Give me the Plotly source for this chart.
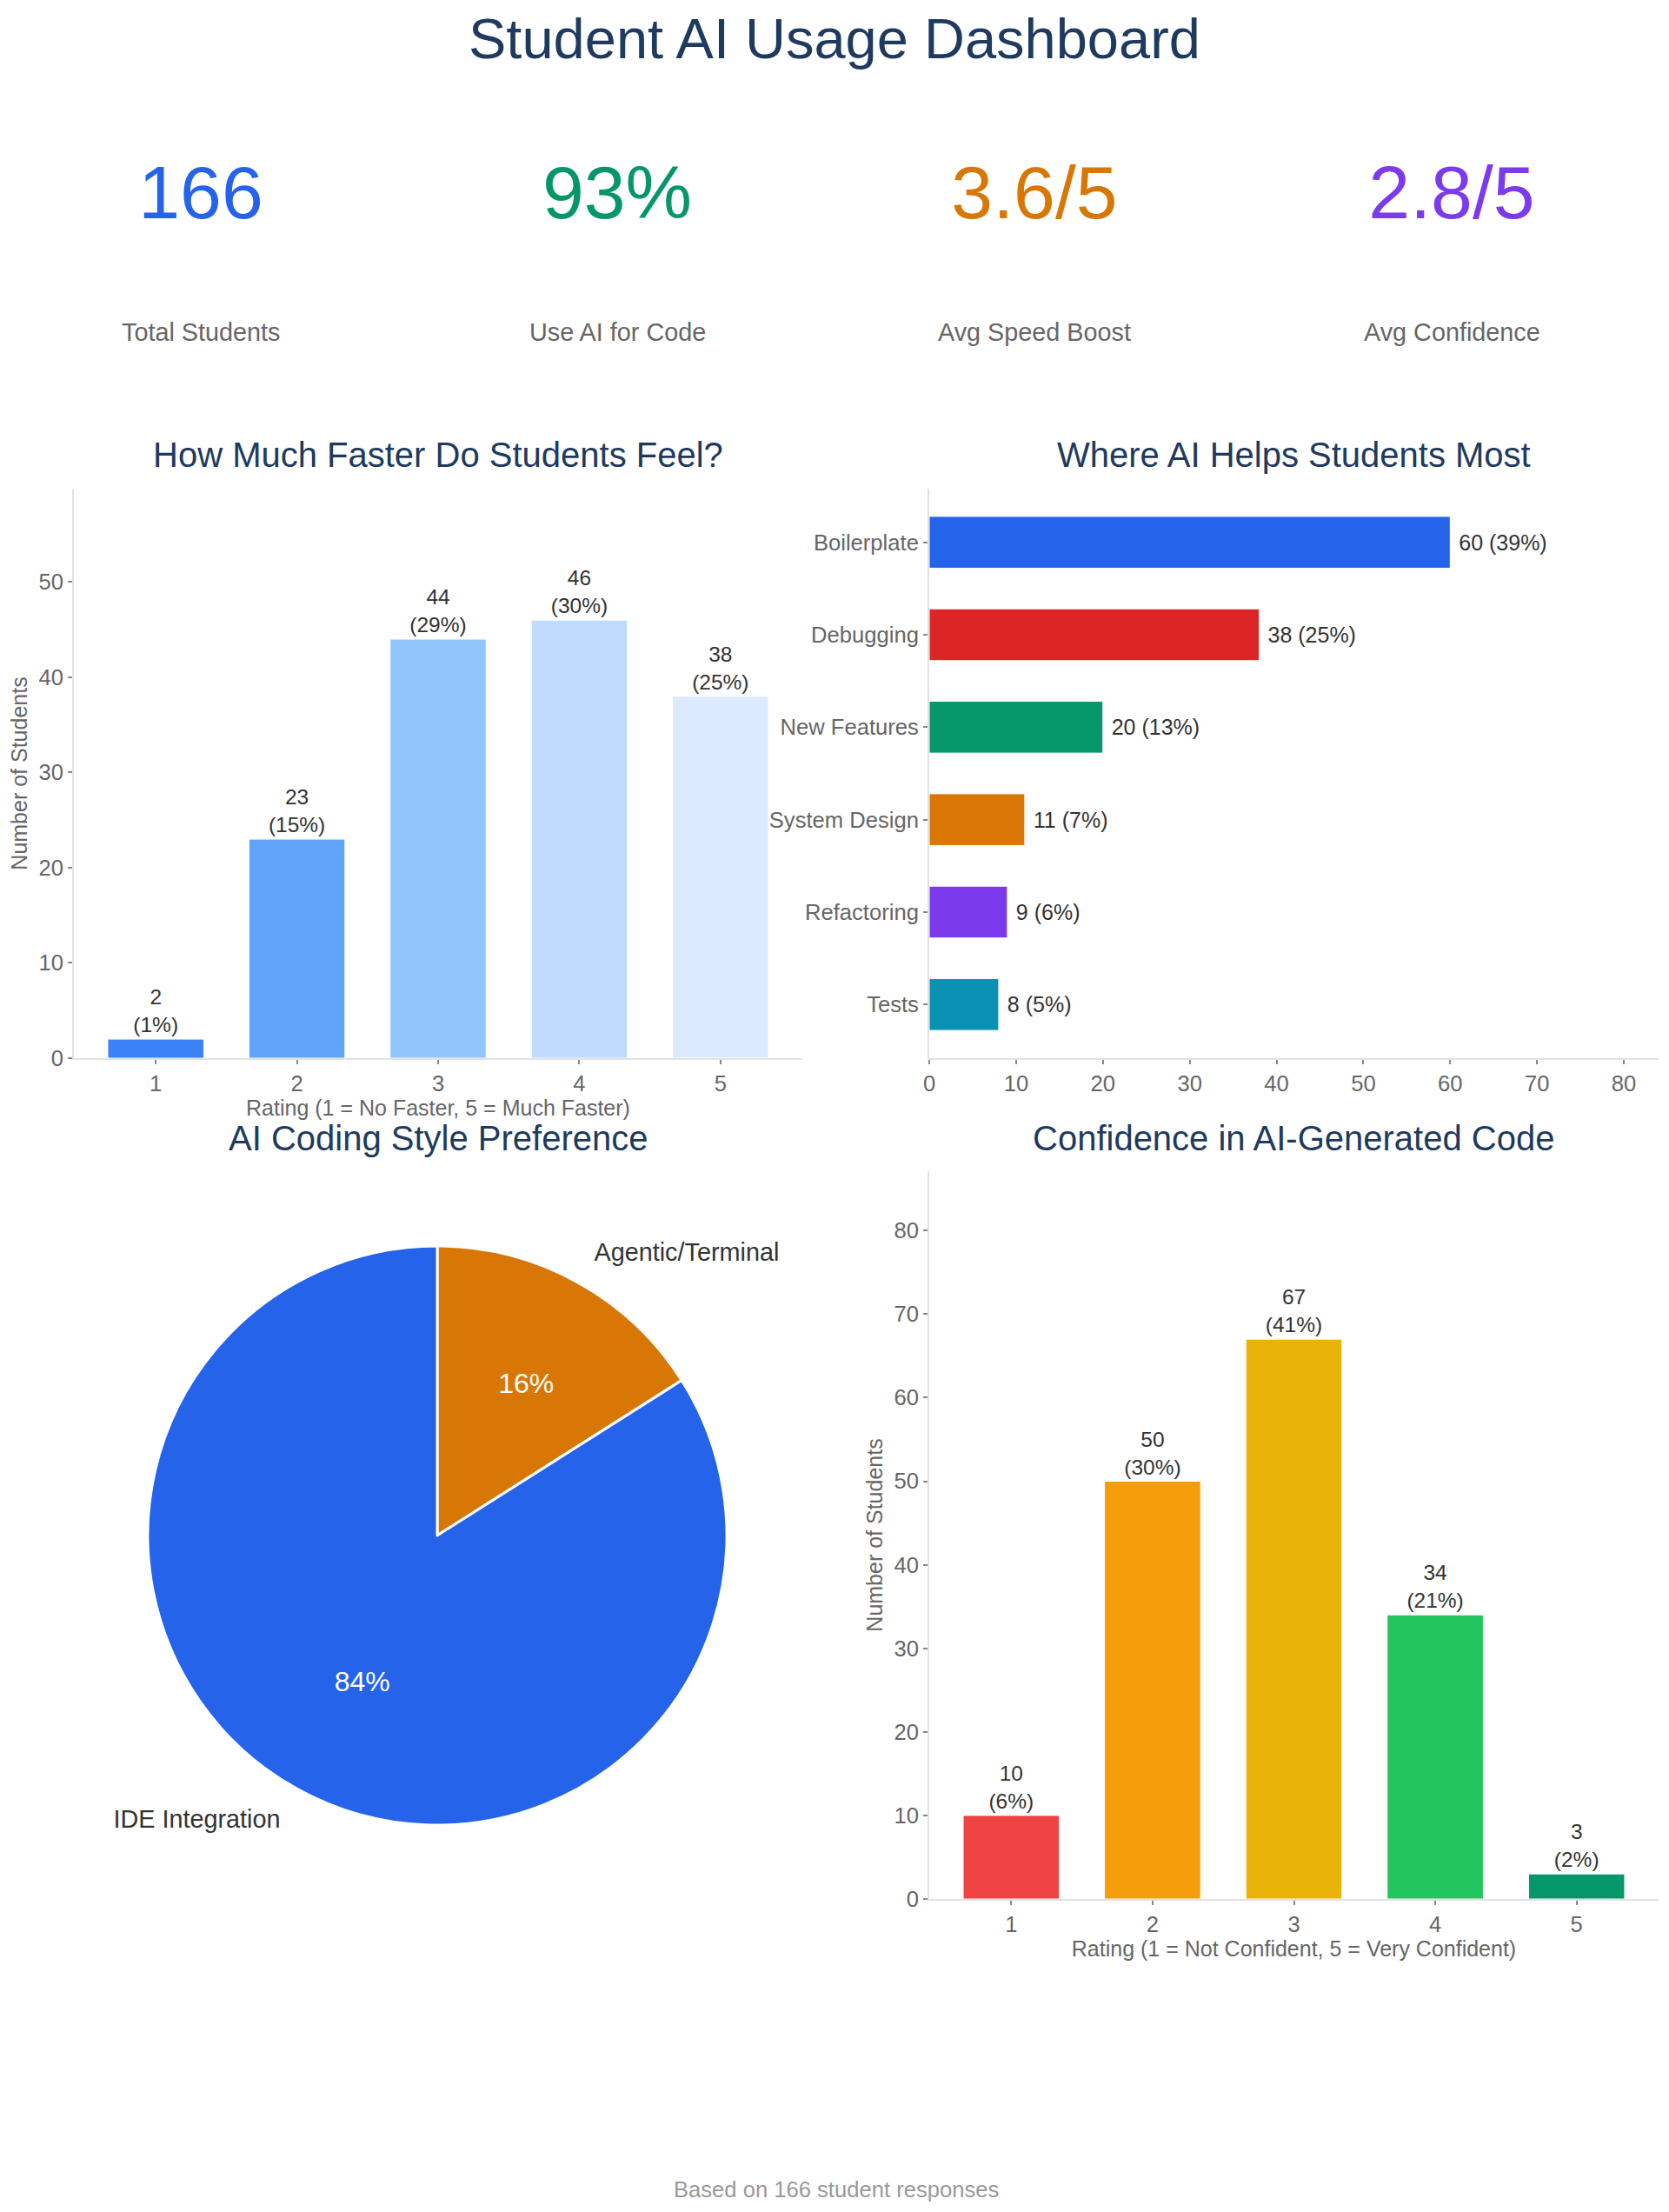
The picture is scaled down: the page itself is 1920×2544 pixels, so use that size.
import plotly.graph_objects as go

# ---- data ----
total_students = 166
use_ai_pct = 93
avg_speed = 3.6
avg_confidence = 2.8

kpi_labels = ["Total Students", "Use AI for Code", "Avg Speed Boost", "Avg Confidence"]

speed_ratings = [1, 2, 3, 4, 5]
speed_counts = [2, 23, 44, 46, 38]
speed_pct = [1, 15, 29, 30, 25]

help_areas = ["Boilerplate", "Debugging", "New Features", "System Design", "Refactoring", "Tests"]
help_counts = [60, 38, 20, 11, 9, 8]
help_pct = [39, 25, 13, 7, 6, 5]

style_labels = ["Agentic/Terminal", "IDE Integration"]
style_pct = [16, 84]

conf_ratings = [1, 2, 3, 4, 5]
conf_counts = [10, 50, 67, 34, 3]
conf_pct = [6, 30, 41, 21, 2]

# ---- styling ----
FONT = "Liberation Sans, Arial, Helvetica, sans-serif"
NAVY = "#1e3a5f"
GRAY = "#666666"
DARK = "#333333"
kpi_colors = ["#2563eb", "#059669", "#d97706", "#7c3aed"]
speed_colors = ["#3b82f6", "#60a5fa", "#93c5fd", "#bfdbfe", "#dbeafe"]
help_colors = ["#2563eb", "#dc2626", "#059669", "#d97706", "#7c3aed", "#0891b2"]
style_colors = ["#d97706", "#2563eb"]
conf_colors = ["#ef4444", "#f59e0b", "#eab308", "#22c55e", "#059669"]
CLEAR = ["rgba(0,0,0,0)", "rgba(0,0,0,0)"]

# the page body has an 8px margin, so the figure sits 8px in from the corner
OFF = 8
W, H = 1904, 2528
ML, MR = 77, 4
PW = W - ML - MR


def px_x(p):  # page pixel -> paper x
    return (p - OFF - ML) / PW


def px_y(p):  # page pixel -> paper y
    return 1 - (p - OFF) / H


fig = go.Figure()

# KPI numbers
kpi_centers = [231, 710, 1190, 1670]
kpi_values = [total_students, use_ai_pct, avg_speed, avg_confidence]
kpi_fmt = [(".0f", ""), (".0f", "%"), (".1f", "/5"), (".1f", "/5")]
for c, v, (fmt, suf), col in zip(kpi_centers, kpi_values, kpi_fmt, kpi_colors):
    fig.add_trace(go.Indicator(
        mode="number", value=v,
        number=dict(valueformat=fmt, suffix=suf, font=dict(size=86, color=col, family=FONT)),
        domain=dict(x=[px_x(c - 140), px_x(c + 140)], y=[px_y(321), px_y(121)]),
    ))

# speed bars
fig.add_trace(go.Bar(
    x=speed_ratings, y=speed_counts, width=0.68,
    marker=dict(color=speed_colors, line=dict(color="white", width=1)),
    text=[f"{c}<br>({p}%)" for c, p in zip(speed_counts, speed_pct)],
    textposition="outside", cliponaxis=False,
    textfont=dict(size=24.5, color=DARK, family=FONT),
    xaxis="x", yaxis="y", showlegend=False,
))

# help areas
fig.add_trace(go.Bar(
    x=help_counts, y=help_areas, orientation="h", width=0.56,
    marker=dict(color=help_colors, line=dict(color="white", width=1)),
    text=[f"\u00a0{c} ({p}%)" for c, p in zip(help_counts, help_pct)],
    textposition="outside", cliponaxis=False,
    textfont=dict(size=25, color=DARK, family=FONT),
    xaxis="x2", yaxis="y2", showlegend=False,
))

# pie slices
fig.add_trace(go.Pie(
    labels=style_labels, values=style_pct, sort=False, direction="clockwise",
    marker=dict(colors=style_colors, line=dict(color="white", width=3)),
    textinfo="none",
    domain=dict(x=[px_x(170), px_x(836)], y=[px_y(2099), px_y(1433)]),
    showlegend=False, hoverinfo="label+percent",
))
# percentages inside (transparent copy, nudged so the text sits centred)
fig.add_trace(go.Pie(
    labels=style_labels, values=style_pct, sort=False, direction="clockwise",
    marker=dict(colors=CLEAR, line=dict(width=0)),
    textinfo="percent", textposition="inside",
    insidetextfont=dict(size=32, color="white", family=FONT),
    domain=dict(x=[px_x(164), px_x(830)], y=[px_y(2121), px_y(1455)]),
    showlegend=False, hoverinfo="skip",
))
# labels outside (transparent copy)
fig.add_trace(go.Pie(
    labels=style_labels, values=style_pct, sort=False, direction="clockwise",
    marker=dict(colors=CLEAR, line=dict(width=0)),
    textinfo="label", textposition="outside",
    outsidetextfont=dict(size=28.8, color=DARK, family=FONT),
    domain=dict(x=[px_x(145), px_x(861)], y=[px_y(2124), px_y(1408)]),
    showlegend=False, hoverinfo="skip",
))

# confidence bars
fig.add_trace(go.Bar(
    x=conf_ratings, y=conf_counts, width=0.68,
    marker=dict(color=conf_colors, line=dict(color="white", width=1)),
    text=[f"{c}<br>({p}%)" for c, p in zip(conf_counts, conf_pct)],
    textposition="outside", cliponaxis=False,
    textfont=dict(size=24.5, color=DARK, family=FONT),
    xaxis="x3", yaxis="y3", showlegend=False,
))

axis_style = dict(
    showline=True, linecolor="#e2e2e2", linewidth=2,
    ticks="outside", ticklen=5, tickwidth=1.5, tickcolor="#888888",
    showgrid=False, zeroline=False, automargin=False,
    tickfont=dict(size=25.6, color=GRAY, family=FONT),
)
title_font = dict(size=25, color=GRAY, family=FONT)

left_x = [0, px_x(923)]
right_x = [px_x(1069), 1]
row2_y = [px_y(1217), px_y(562)]
row3_y = [px_y(2184), px_y(1347)]

fig.update_layout(
    width=W, height=H,
    paper_bgcolor="white", plot_bgcolor="white",
    margin=dict(l=ML, r=MR, t=0, b=0, autoexpand=False),
    font=dict(family=FONT, color=GRAY),
    title=dict(text="Student AI Usage Dashboard", x=0.5, xanchor="center",
               y=px_y(44), yanchor="middle", yref="container",
               font=dict(size=65, color=NAVY, family=FONT)),
    xaxis=dict(domain=left_x, anchor="y", range=[0.42, 5.58], tickvals=speed_ratings,
               title=dict(text="Rating (1 = No Faster, 5 = Much Faster)", standoff=4, font=title_font),
               **axis_style),
    yaxis=dict(domain=row2_y, anchor="x", range=[0, 59.8], dtick=10,
               title=dict(text="Number of Students", standoff=6, font=title_font), **axis_style),
    xaxis2=dict(domain=right_x, anchor="y2", range=[0, 84], dtick=10, **axis_style),
    yaxis2=dict(domain=row2_y, anchor="x2", type="category", categoryorder="array",
                categoryarray=help_areas, range=[5.58, -0.58], **axis_style),
    xaxis3=dict(domain=right_x, anchor="y3", range=[0.42, 5.58], tickvals=conf_ratings,
                title=dict(text="Rating (1 = Not Confident, 5 = Very Confident)", standoff=5,
                           font=title_font), **axis_style),
    yaxis3=dict(domain=row3_y, anchor="x3", range=[0, 87.1], dtick=10,
                title=dict(text="Number of Students", standoff=6, font=title_font), **axis_style),
)

annotations = []
for c, lab in zip(kpi_centers, kpi_labels):
    annotations.append(dict(text=lab, x=px_x(c), y=px_y(382), xref="paper", yref="paper",
                            xanchor="center", yanchor="middle", showarrow=False,
                            font=dict(size=28.8, color=GRAY, family=FONT)))

sub_titles = [
    ("How Much Faster Do Students Feel?", 504, 523),
    ("Where AI Helps Students Most", 1488, 523),
    ("AI Coding Style Preference", 504, 1309),
    ("Confidence in AI-Generated Code", 1488, 1309),
]
for t, cx, cy in sub_titles:
    annotations.append(dict(text=t, x=px_x(cx), y=px_y(cy), xref="paper", yref="paper",
                            xanchor="center", yanchor="middle", showarrow=False,
                            font=dict(size=40, color=NAVY, family=FONT)))

annotations.append(dict(text=f"Based on {total_students} student responses",
                        x=px_x(962), y=px_y(2518), xref="paper", yref="paper",
                        xanchor="center", yanchor="middle", showarrow=False,
                        font=dict(size=25.6, color="#999999", family=FONT)))
fig.update_layout(annotations=annotations)

fig.write_html("out.html")
